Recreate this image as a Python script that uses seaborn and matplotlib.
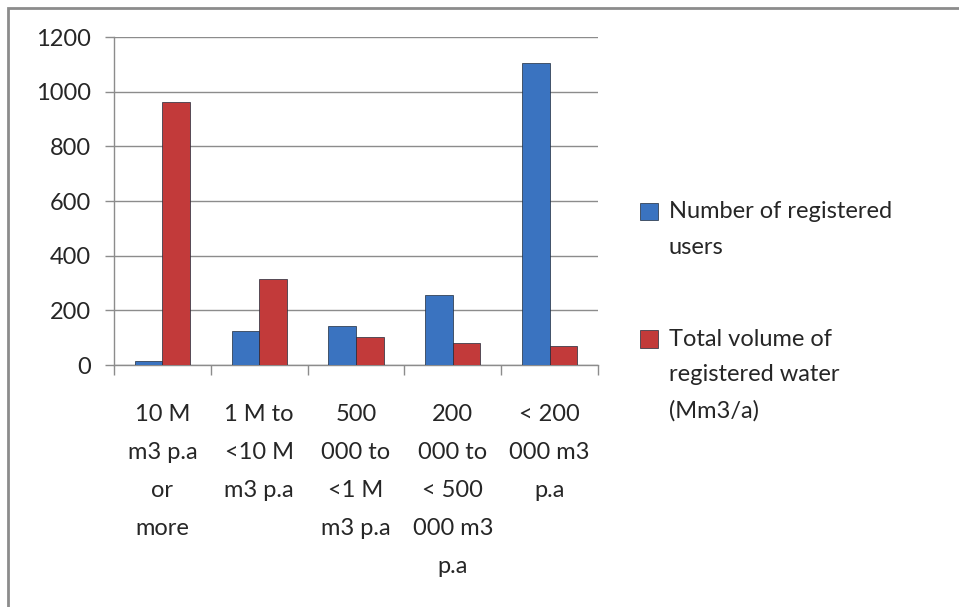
import numpy as np
import pandas as pd
import matplotlib.pyplot as plt
import seaborn as sns
from matplotlib.patches import Rectangle
from matplotlib.legend_handler import HandlerPatch

categories = ["10 M\nm3 p.a\nor\nmore",
              "1 M to\n<10 M\nm3 p.a",
              "500\n000 to\n<1 M\nm3 p.a",
              "200\n000 to\n< 500\n000 m3\np.a",
              "< 200\n000 m3\np.a"]
series_names = ["Number of registered\nusers",
                "Total volume of\nregistered water\n(Mm3/a)"]
users = [15, 123, 141, 255, 1104]
volume = [961, 313, 101, 79, 68]
colors = ["#3a73c0", "#c23a3a"]

data = pd.DataFrame({
    "cat": categories * 2,
    "series": [series_names[0]] * 5 + [series_names[1]] * 5,
    "value": users + volume,
})

sns.set_style("white")
plt.rcParams['font.family'] = ['Lato', 'DejaVu Sans']

fig = plt.figure(figsize=(9.59, 6.07), dpi=100)
ax = fig.add_axes([114 / 959, 1 - 365 / 607, 484 / 959, 328 / 607])

sns.barplot(data=data, x="cat", y="value", hue="series", palette=colors,
            saturation=1, width=0.57, ax=ax, legend=False, zorder=3,
            edgecolor="#1f2a3a", linewidth=0.5)

ax.set_ylim(0, 1200)
ax.set_xlim(-0.5, 4.5)
ax.set_yticks(np.arange(0, 1201, 200))
ax.yaxis.grid(True, color="#8c8c8c", linewidth=1)
ax.set_axisbelow(True)
ax.set_xlabel("")
ax.set_ylabel("")
for s in ["top", "right"]:
    ax.spines[s].set_visible(False)
for s in ["left", "bottom"]:
    ax.spines[s].set_color("#8c8c8c")
    ax.spines[s].set_linewidth(1)

ax.tick_params(axis="y", left=True, length=6.5, width=1, color="#8c8c8c", labelsize=17, pad=10)
ax.set_xticks(range(5))
ax.set_xticklabels(categories, fontsize=17, linespacing=2.0, va="top")
ax.tick_params(axis="x", which="major", length=0, pad=28)
ax.set_xticks(np.arange(-0.5, 5, 1), minor=True)
ax.tick_params(axis="x", which="minor", bottom=True, length=7.2, color="#8c8c8c", width=1)


# legend markers sit next to the first line of each label
def shifted(shift):
    def make(legend, orig_handle, xdescent, ydescent, width, height, fontsize):
        return Rectangle((-xdescent, -ydescent + shift), width, height)
    return HandlerPatch(patch_func=make)


handles = [Rectangle((0, 0), 1, 1, facecolor=c, edgecolor="#1f2a3a", linewidth=0.5) for c in colors]
leg = fig.legend(handles, series_names, loc="upper left", bbox_to_anchor=(619 / 959, 1 - 180 / 607),
                 frameon=False, fontsize=17, handlelength=0.75, handleheight=0.75,
                 handletextpad=0.45, labelspacing=3.0,
                 handler_map={handles[0]: shifted(13), handles[1]: shifted(26)})
for t in leg.get_texts():
    t.set_linespacing(1.85)

fig.patches.append(Rectangle((8 / 959, -0.01), 1.0, 1 - 8 / 607 + 0.01, transform=fig.transFigure,
                             fill=False, edgecolor="#8c8c8c", linewidth=2))

fig.savefig("out.png", dpi=100)
